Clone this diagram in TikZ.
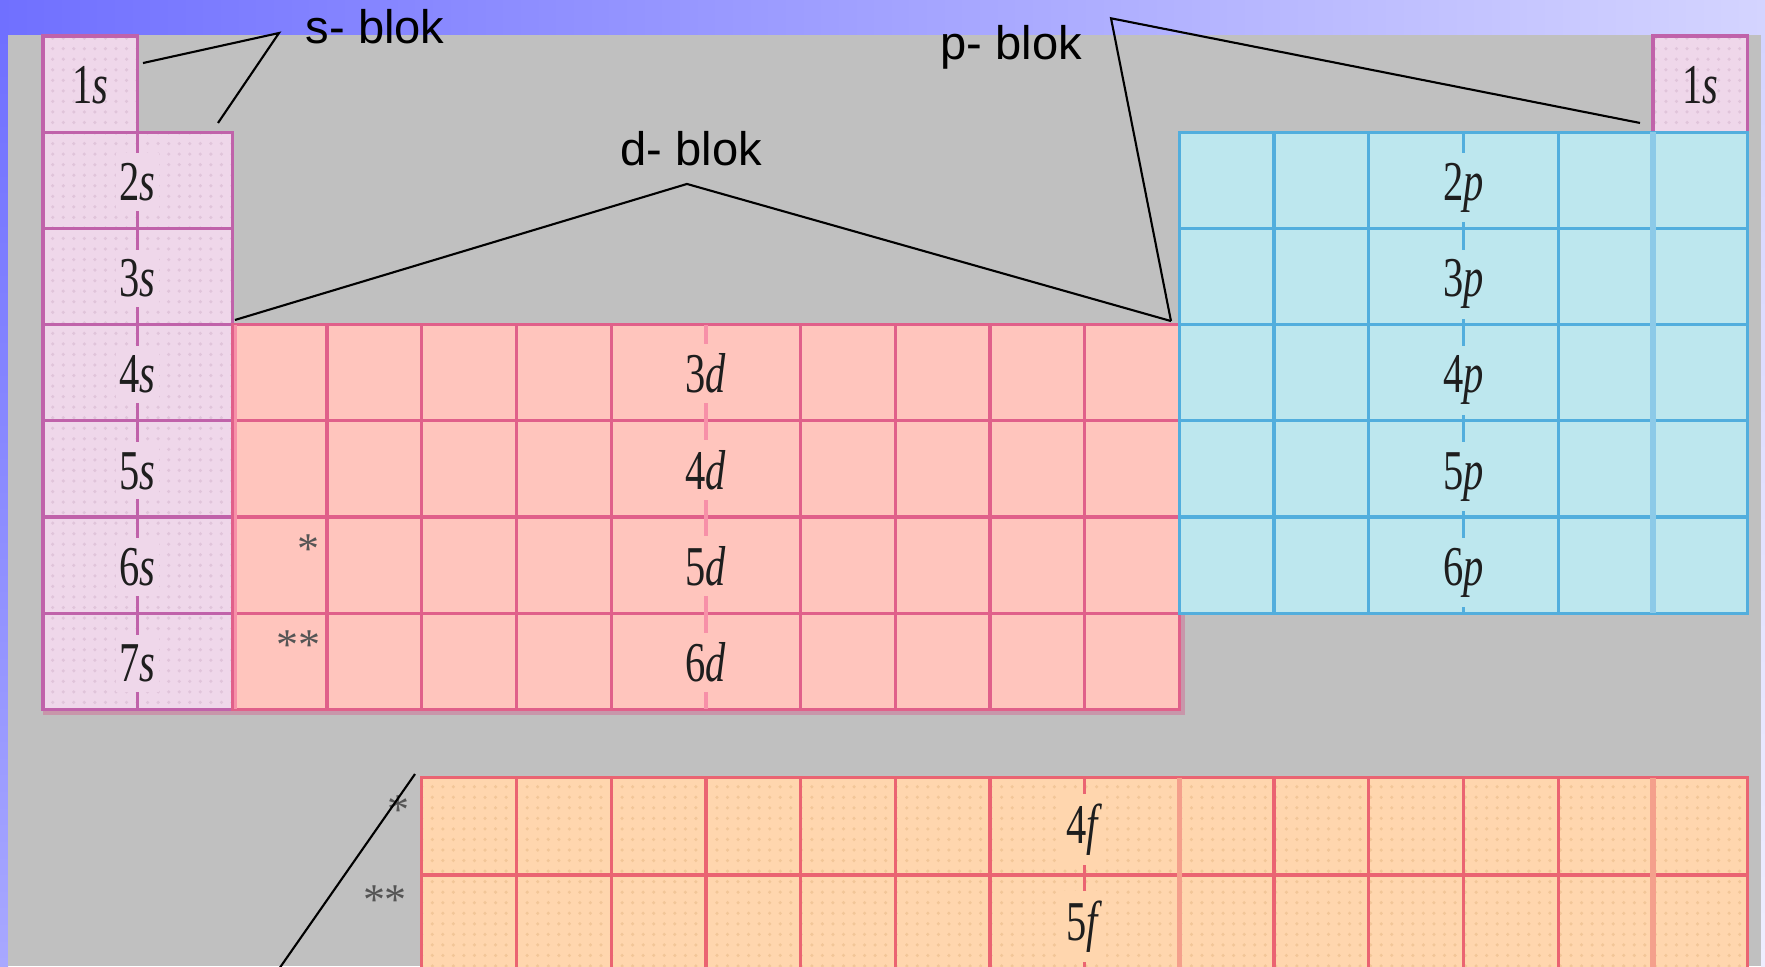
\documentclass[tikz,border=0pt]{standalone}
\usepackage{fontspec}
\setmainfont{Liberation Serif}
\newfontfamily\arialfont{Liberation Sans}
\usepackage{graphicx}
\usetikzlibrary{patterns}

\definecolor{bggray}{HTML}{C0C0C0}
\definecolor{bandl}{HTML}{7070FF}
\definecolor{bandr}{HTML}{D4D4FF}
\definecolor{sidelo}{HTML}{A8A8FF}
\definecolor{siderlo}{HTML}{EEEEFF}
\definecolor{sfill}{HTML}{EFD7EA}
\definecolor{sdots}{HTML}{E0C4DA}
\definecolor{sline}{HTML}{C062AA}
\definecolor{dfill}{HTML}{FFC5BD}
\definecolor{dline}{HTML}{E0608A}
\definecolor{dlight}{HTML}{F790A8}
\definecolor{pfill}{HTML}{BDE7EE}
\definecolor{pline}{HTML}{52AEDD}
\definecolor{plight}{HTML}{8CCAE8}
\definecolor{ffill}{HTML}{FFD6AE}
\definecolor{fdots}{HTML}{F2C698}
\definecolor{fline}{HTML}{EA6472}
\definecolor{flight}{HTML}{F4A08C}
\definecolor{shadowcol}{HTML}{C896AA}
\definecolor{lblcol}{HTML}{1E1E1E}
\definecolor{starcol}{HTML}{555555}

\newcommand{\orb}[2]{\scalebox{0.72}[1]{#1\textit{#2}}}

\tikzset{
  cell/.style={line width=0.95pt},
  wide/.style={line width=1.6pt},
  lbl/.style={anchor=base, inner xsep=1pt, inner ysep=2.8pt, text=lblcol,
    font=\fontsize{16}{16}\selectfont},
  star/.style={text=starcol, inner sep=0pt, font=\fontsize{12.5}{12.5}\selectfont},
  blok/.style={anchor=base west, inner sep=0pt, font=\arialfont\fontsize{13.4}{14}\selectfont},
  callout/.style={line width=0.6pt, black},
}

\begin{document}
\begin{tikzpicture}[x=0.947cm, y=-0.962cm]
  \useasboundingbox (-0.4541,-0.3742) rectangle (18.1837,9.6674);
  \clip (-0.4541,-0.3742) rectangle (18.1837,9.6674);
  % 背景
  \shade[left color=bandl, right color=bandr] (-0.4541,-0.3742) rectangle (18.1837,-0.0104);
  \shade[top color=bandl, bottom color=sidelo] (-0.4541,-0.0104) rectangle (-0.3696,9.6674);
  \shade[top color=bandr, bottom color=siderlo] (18.1415,-0.0104) rectangle (18.1837,9.6674);
  \fill[bggray] (-0.3696,-0.0104) rectangle (18.1415,9.6674);

  % s 区
  \path[fill=sfill, postaction={pattern=dots, pattern color=sdots}]
    (0,0) -- (1,0) -- (1,1) -- (2,1) -- (2,7) -- (0,7) -- cycle;
  \path[fill=sfill, postaction={pattern=dots, pattern color=sdots}] (17,0) rectangle (18,1);
  \fill[shadowcol] (0,7) rectangle (12.06,7.06);
  \fill[shadowcol] (12,6) rectangle (12.06,7.06);
  \draw[cell, sline] (0,0) rectangle (1,1);
  \draw[cell, sline] (17,0) rectangle (18,1);
  \foreach \r in {1,...,6} \draw[cell, sline] (0,\r) rectangle (2,\r+1);
  \draw[cell, sline] (1,1) -- (1,7);

  % d 区
  \fill[dfill] (2,3) rectangle (12,7);
  \foreach \r in {3,...,6} \draw[cell, dline] (2,\r) rectangle (12,\r+1);
  \foreach \c in {3,4,5,6,8,9,10,11} \draw[cell, dline] (\c,3) -- (\c,7);
  \draw[cell, dlight] (7,3) -- (7,7);
  \draw[cell, dlight] (2.03,3) -- (2.03,7);

  % p 区
  \fill[pfill] (12,1) rectangle (18,6);
  \foreach \r in {1,...,5} \draw[cell, pline] (12,\r) rectangle (18,\r+1);
  \foreach \c in {13,14,15,16} \draw[cell, pline] (\c,1) -- (\c,6);
  \draw[wide, plight] (17,1) -- (17,6);

  % f 区
  \path[fill=ffill, postaction={pattern=dots, pattern color=fdots}] (4,7.71) rectangle (18,9.73);
  \foreach \r in {7.71,8.72} \draw[cell, fline] (4,\r) rectangle (18,\r+1.01);
  \foreach \c in {5,6,7,8,9,10,11,13,14,15,16} \draw[cell, fline] (\c,7.71) -- (\c,9.73);
  \foreach \c in {12,17} \draw[wide, flight] (\c,7.71) -- (\c,9.73);

  % 标签
  \node[lbl] (s1) at (0.5,0.7) {\orb{1}{s}};
  \node[lbl] (he) at (17.5,0.7) {\orb{1}{s}};
  \foreach \n [count=\r] in {2,...,7} \node[lbl, fill=sfill] (s\n) at (1,\r+0.71) {\orb{\n}{s}};
  \foreach \r in {3,...,6} \node[lbl, fill=dfill] (d\r) at (7,\r+0.71) {\orb{\r}{d}};
  \foreach \n [count=\r] in {2,...,6} \node[lbl, fill=pfill] (p\n) at (15,\r+0.71) {\orb{\n}{p}};
  \node[lbl, fill=ffill] (f4) at (11,8.39) {\orb{4}{f}};
  \node[lbl, fill=ffill] (f5) at (11,9.40) {\orb{5}{f}};
  \node[star] (st6) at (2.808,5.33) {*};
  \node[star] (st7) at (2.698,6.33) {**};
  \node[star] (stf4) at (3.749,8.05) {*};
  \node[star] (stf5) at (3.611,8.98) {**};

  \node[blok] (sblok) at (2.767,0.076) {s- blok};
  \node[blok] (pblok) at (9.472,0.249) {p- blok};
  \node[blok] (dblok) at (6.093,1.341) {d- blok};
  \coordinate (sa) at (2.492,-0.031);
  \coordinate (s1e) at (1.056,0.281);
  \coordinate (s2e) at (1.848,0.904);
  \coordinate (da) at (6.800,1.538);
  \coordinate (d1e) at (2.027,2.952);
  \coordinate (d2e) at (11.911,2.963);
  \coordinate (pa) at (11.278,-0.184);
  \coordinate (p2e) at (16.864,0.904);
  \coordinate (f1e) at (3.928,7.672);
  \coordinate (f2e) at (2.455,9.75);
  \draw[callout] (s1e) -- (sa) -- (s2e);
  \draw[callout] (d1e) -- (da) -- (d2e);
  \draw[callout] (d2e) -- (pa) -- (p2e);
  \draw[callout] (f1e) -- (f2e);
\end{tikzpicture}
\end{document}
